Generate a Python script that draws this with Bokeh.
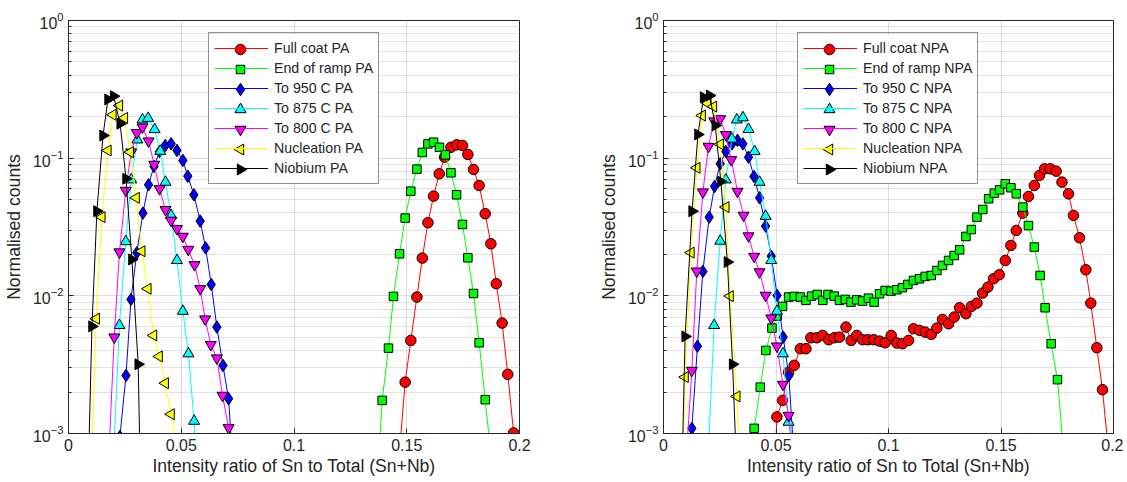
import math
from bokeh.plotting import figure
from bokeh.models import FixedTicker, Legend, LegendItem, BoxAnnotation
from bokeh.layouts import row
from bokeh.embed import file_html
from bokeh.resources import INLINE

# ---------------- data : PA (left panel) ----------------
fc_pa_x = [0.1468, 0.1493, 0.1518, 0.1545, 0.1569, 0.1594, 0.1619, 0.1644, 0.1668, 0.1696, 0.1722,
           0.1747, 0.1771, 0.1796, 0.1821, 0.1848, 0.1873, 0.1897, 0.1923, 0.1948, 0.1974, 0.1999]
fc_pa_y = [0.00075, 0.00236, 0.00474, 0.0098, 0.0188, 0.034, 0.053, 0.077, 0.1017, 0.120, 0.125,
           0.1237, 0.1064, 0.0828, 0.0633, 0.0395, 0.0239, 0.01225, 0.00634, 0.00269, 0.00101, 0.0002]

er_pa_x = [0.1366, 0.1391, 0.1419, 0.1441, 0.1468, 0.1493, 0.1518, 0.1545, 0.1569, 0.1594, 0.1619,
           0.1645, 0.1671, 0.1696, 0.1721, 0.1747, 0.1771, 0.1796, 0.1821, 0.1848, 0.1873]
er_pa_y = [0.00037, 0.00174, 0.00417, 0.0099, 0.0202, 0.0367, 0.0576, 0.0832, 0.110, 0.127, 0.1306,
           0.120, 0.1057, 0.0783, 0.0542, 0.033, 0.0189, 0.0104, 0.00456, 0.00176, 0.0007]

t950_pa_x = [0.0228, 0.0255, 0.0277, 0.0303, 0.0330, 0.0355, 0.0379, 0.0404, 0.0429, 0.0455, 0.0481,
             0.0507, 0.0529, 0.0556, 0.0584, 0.0608, 0.0633, 0.0658, 0.0685, 0.0710, 0.0736]
t950_pa_y = [0.00095, 0.00264, 0.00942, 0.02055, 0.0399, 0.0641, 0.0871, 0.1119, 0.1237, 0.1272, 0.1138,
             0.0962, 0.0740, 0.0542, 0.0349, 0.0223, 0.0121, 0.00593, 0.00312, 0.00179, 0.0004]

t875_pa_x = [0.0200, 0.0226, 0.0254, 0.0278, 0.0305, 0.0328, 0.0353, 0.0382, 0.0407, 0.0430, 0.0455,
             0.0481, 0.0507, 0.0532, 0.0557, 0.0583]
t875_pa_y = [0.00072, 0.0061, 0.0248, 0.0697, 0.136, 0.190, 0.195, 0.1616, 0.1124, 0.067, 0.0384,
             0.0181, 0.00774, 0.0038, 0.00123, 0.0001]

t800_pa_x = [0.0177, 0.0203, 0.0226, 0.0254, 0.0278, 0.0303, 0.0328, 0.0355, 0.0380, 0.0404, 0.0430,
             0.0455, 0.0481, 0.0507, 0.0531, 0.0559, 0.0584, 0.0606, 0.0631, 0.0658, 0.0683, 0.0710, 0.0736]
t800_pa_y = [0.0006, 0.00501, 0.0208, 0.0583, 0.1106, 0.153, 0.168, 0.133, 0.090, 0.0599, 0.0422,
             0.0353, 0.0307, 0.027, 0.0217, 0.0168, 0.01125, 0.00678, 0.00442, 0.00353, 0.00189, 0.0011, 0.0002]

nuc_pa_x = [0.0097, 0.0123, 0.0148, 0.0175, 0.0197, 0.0226, 0.0248, 0.0274, 0.0300, 0.0325, 0.0352,
            0.0377, 0.0402, 0.0429, 0.0455, 0.0481]
nuc_pa_y = [0.00036, 0.00682, 0.0373, 0.1138, 0.2066, 0.241, 0.196, 0.1106, 0.0515, 0.0211, 0.01125,
            0.00516, 0.00363, 0.00232, 0.00138, 0.00085]

nb_pa_x = [0.0078, 0.0104, 0.0126, 0.0153, 0.0175, 0.0200, 0.0229, 0.0255, 0.0281, 0.0309, 0.0335]
nb_pa_y = [0.00012, 0.0060, 0.0412, 0.146, 0.267, 0.282, 0.178, 0.0709, 0.01838, 0.00318, 0.00002]

# ---------------- data : NPA (right panel) ----------------
fc_npa_x = [0.0479, 0.0504, 0.0529, 0.0556, 0.0581, 0.0608, 0.0633, 0.0655, 0.0682, 0.0707, 0.0734,
            0.0759, 0.0782, 0.0811, 0.0834, 0.0859, 0.0885, 0.0908, 0.0934, 0.0960, 0.0985,
            0.1012, 0.1037, 0.1062, 0.1089, 0.1111, 0.1138, 0.1163, 0.1190, 0.1215, 0.1240,
            0.1267, 0.1292, 0.1316, 0.1344, 0.1368, 0.1393, 0.1418, 0.1442, 0.1467, 0.1492,
            0.1519, 0.1544, 0.1568, 0.1597, 0.1622, 0.1648, 0.1671, 0.1694, 0.1719, 0.1745,
            0.1771, 0.1800, 0.1822, 0.1849, 0.1877, 0.1899, 0.1926, 0.1951, 0.1977]
fc_npa_y = [0.00013, 0.00132, 0.00174, 0.00279, 0.00313, 0.00413, 0.00413, 0.00496, 0.00496, 0.00516, 0.0048,
            0.00496, 0.00501, 0.00593, 0.00474, 0.00516, 0.0048, 0.0048, 0.0048, 0.00469, 0.00456,
            0.00516, 0.00454, 0.00449, 0.00474, 0.00577, 0.00561, 0.00545, 0.00525, 0.00583, 0.00674,
            0.00627, 0.00701, 0.00819, 0.00741, 0.00838, 0.00885, 0.01047, 0.01157, 0.0133, 0.01422,
            0.01807, 0.02323, 0.02985, 0.0399, 0.0527, 0.0633, 0.0749, 0.0837, 0.0837, 0.0805,
            0.067, 0.0551, 0.0384, 0.0264, 0.01546, 0.00885, 0.0042, 0.00208, 0.00076]

er_npa_x = [0.0378, 0.0403, 0.0430, 0.0455, 0.0482, 0.0505, 0.0529, 0.0556, 0.0581, 0.0608, 0.0633,
            0.0658, 0.0683, 0.0708, 0.0731, 0.0759, 0.0782, 0.0808, 0.0833, 0.0859, 0.0885,
            0.0911, 0.0936, 0.0960, 0.0985, 0.1011, 0.1037, 0.1062, 0.1086, 0.1111, 0.1138,
            0.1163, 0.1190, 0.1215, 0.1240, 0.1267, 0.1292, 0.1316, 0.1344, 0.1368, 0.1393,
            0.1419, 0.1445, 0.1470, 0.1494, 0.1519, 0.1544, 0.1568, 0.1597, 0.1622, 0.1648,
            0.1674, 0.1696, 0.1723, 0.1751, 0.1777]
er_npa_y = [0.0003, 0.00109, 0.00217, 0.00401, 0.00583, 0.00713, 0.00838, 0.0098, 0.0099, 0.0098, 0.00927,
            0.00995, 0.01023, 0.00927, 0.01023, 0.00995, 0.00927, 0.00942, 0.0090, 0.00935, 0.00916,
            0.00962, 0.0090, 0.01035, 0.01094, 0.01082, 0.01107, 0.01146, 0.0121, 0.01294, 0.0133,
            0.01384, 0.01406, 0.01528, 0.01663, 0.01807, 0.01963, 0.02158, 0.027, 0.0303, 0.0373,
            0.0424, 0.0507, 0.0557, 0.0589, 0.0652, 0.061, 0.0551, 0.0441, 0.0324, 0.0226,
            0.01406, 0.00819, 0.00449, 0.00246, 0.00078]

t950_npa_x = [0.0101, 0.0126, 0.0151, 0.0175, 0.0203, 0.0227, 0.0252, 0.0277, 0.0304, 0.0329,
              0.0353, 0.0378, 0.0402, 0.0427, 0.0454, 0.0479, 0.0505, 0.0532, 0.0557, 0.0582]
t950_npa_y = [0.0002, 0.00109, 0.00431, 0.01504, 0.0373, 0.0623, 0.0911, 0.112, 0.127, 0.1345,
              0.127, 0.1017, 0.0736, 0.0515, 0.0321, 0.0194, 0.01007, 0.00501, 0.00263, 0.0006]

t875_npa_x = [0.0200, 0.0225, 0.0252, 0.0277, 0.0304, 0.0326, 0.0353, 0.0378, 0.0405, 0.0427,
              0.0454, 0.0479, 0.0504, 0.0531, 0.0556, 0.0581]
t875_npa_y = [0.0008, 0.0061, 0.0250, 0.0697, 0.138, 0.190, 0.197, 0.162, 0.112, 0.067,
              0.0379, 0.0181, 0.00774, 0.0038, 0.00121, 0.00087]

t800_npa_x = [0.0101, 0.0126, 0.0148, 0.0175, 0.0200, 0.0225, 0.0252, 0.0277, 0.0301, 0.0329,
              0.0356, 0.0378, 0.0403, 0.0427, 0.0454, 0.0479, 0.0504, 0.0531, 0.0556, 0.0581]
t800_npa_y = [0.00066, 0.00287, 0.0151, 0.0567, 0.1216, 0.186, 0.193, 0.148, 0.0973, 0.0573,
              0.0384, 0.0272, 0.0193, 0.0149, 0.01007, 0.00689, 0.00431, 0.00227, 0.00135, 0.0005]

nuc_npa_x = [0.0071, 0.0096, 0.0122, 0.0148, 0.0172, 0.0197, 0.0222, 0.0252, 0.0277, 0.0296, 0.0326, 0.0352]
nuc_npa_y = [0.0001, 0.00257, 0.0206, 0.0851, 0.204, 0.25, 0.237, 0.126, 0.0441, 0.00995, 0.00186, 0.0002]

nb_npa_x = [0.0071, 0.0096, 0.0127, 0.0153, 0.0178, 0.0205, 0.0230, 0.0255, 0.0284, 0.0307, 0.0333]
nb_npa_y = [0.00008, 0.00507, 0.0412, 0.1486, 0.277, 0.285, 0.1727, 0.0677, 0.0176, 0.00318, 0.00025]

x_ticks = [0, 0.05, 0.1, 0.15, 0.2]
x_tick_labels = ["0", "0.05", "0.1", "0.15", "0.2"]

names = ["Full coat", "End of ramp", "To 950 C", "To 875 C", "To 800 C", "Nucleation", "Niobium"]
colors = ["#FF0000", "#00FF00", "#0000FF", "#00FFFF", "#FF00FF", "#FFFF00", "#000000"]
markers = [("circle", 10.5, 0.0), ("square", 8.5, 0.0), ("diamond", 12.5, 0.0), ("triangle", 11, 0.0),
           ("inverted_triangle", 11, 0.0), ("triangle", 11, math.pi / 2), ("triangle", 11, -math.pi / 2)]

pa_data = [(fc_pa_x, fc_pa_y), (er_pa_x, er_pa_y), (t950_pa_x, t950_pa_y), (t875_pa_x, t875_pa_y),
           (t800_pa_x, t800_pa_y), (nuc_pa_x, nuc_pa_y), (nb_pa_x, nb_pa_y)]
npa_data = [(fc_npa_x, fc_npa_y), (er_npa_x, er_npa_y), (t950_npa_x, t950_npa_y), (t875_npa_x, t875_npa_y),
            (t800_npa_x, t800_npa_y), (nuc_npa_x, nuc_npa_y), (nb_npa_x, nb_npa_y)]

FONT = "Liberation Sans"
TXT = "#262626"
FRAME_H = 413
LEG_PAD = 5
LEG_GLYPH_W = 54
LEG_ROW = 20
LEG_FONT_PX = 14.2
# Arial/Liberation Sans advance widths (em) of the glyphs used in the legend labels
ADV = {" ": .278, "A": .667, "C": .722, "E": .667, "F": .611, "N": .722, "P": .667, "T": .611,
       "0": .556, "5": .556, "7": .556, "8": .556, "9": .556, "a": .556, "b": .556, "c": .5,
       "d": .556, "e": .556, "f": .278, "i": .222, "l": .222, "m": .833, "n": .556, "o": .556,
       "p": .556, "r": .333, "t": .278, "u": .556}


def px_to_x(px, frame_w):
    return px * 0.2 / frame_w


def px_to_y(px):
    return 10 ** (-3 + 3 * px / FRAME_H)


def make_panel(data, suffix, frame_w, b_left, b_right, legend_loc):
    p = figure(frame_width=frame_w, frame_height=FRAME_H, x_range=(0, 0.2), y_range=(1e-3, 1),
               y_axis_type="log", output_backend="svg", toolbar_location=None,
               min_border_left=b_left, min_border_right=b_right, min_border_top=20, min_border_bottom=47)
    p.background_fill_color = "white"
    p.border_fill_color = "white"
    p.outline_line_color = TXT
    p.outline_line_width = 1

    p.xgrid.grid_line_color = "#dcdcdc"
    p.ygrid.grid_line_color = "#dcdcdc"
    p.ygrid.minor_grid_line_color = "#c4c4c4"
    p.ygrid.minor_grid_line_dash = "1 1"

    p.xaxis.ticker = FixedTicker(ticks=x_ticks)
    p.xaxis.major_label_overrides = {t: l for t, l in zip(x_ticks, x_tick_labels)}
    for ax in (p.xaxis[0], p.yaxis[0]):
        ax.axis_line_color = TXT
        ax.major_tick_line_color = TXT
        ax.minor_tick_line_color = TXT
        ax.major_tick_in = 5
        ax.major_tick_out = 0
        ax.minor_tick_out = 0
        ax.major_label_text_font = FONT
        ax.major_label_text_font_size = "16px"
        ax.major_label_text_color = TXT
        ax.axis_label_text_font = FONT
        ax.axis_label_text_font_size = "17.6px"
        ax.axis_label_text_font_style = "normal"
        ax.axis_label_text_color = TXT
    p.xaxis.minor_tick_in = 0
    p.yaxis.minor_tick_in = 3
    p.xaxis.axis_label = "Intensity ratio of Sn to Total (Sn+Nb)"
    p.yaxis.axis_label = "Normalised counts"
    p.xaxis.major_label_standoff = 5
    p.xaxis.axis_label_standoff = 2
    p.yaxis.axis_label_standoff = 6

    labels = [f"{name} {suffix}" for name in names]

    # white backing of the legend box (legend itself is drawn transparent on top)
    label_w = max(sum(ADV.get(ch, .556) for ch in lab) for lab in labels) * LEG_FONT_PX
    leg_w = 2 * LEG_PAD + LEG_GLYPH_W + 6 + label_w
    leg_h = 2 * LEG_PAD + len(labels) * LEG_ROW
    backing = BoxAnnotation(left=px_to_x(legend_loc[0] + 0.5, frame_w),
                            right=px_to_x(legend_loc[0] + leg_w - 0.5, frame_w),
                            bottom=px_to_y(legend_loc[1] + 0.5), top=px_to_y(legend_loc[1] + leg_h - 0.5),
                            fill_color="white", fill_alpha=1, line_alpha=0, level="underlay")
    p.add_layout(backing)

    items = []
    for lab, col, (mk, sz, ang), (xs, ys) in zip(labels, colors, markers, data):
        ln = p.line(xs, ys, line_color=col, line_width=1)
        p.scatter(xs, ys, marker=mk, size=sz, angle=ang, fill_color=col, line_color="black", line_width=1)
        items.append(LegendItem(label=lab, renderers=[ln]))

    # legend entry symbols
    sym_x = px_to_x(legend_loc[0] + LEG_PAD + LEG_GLYPH_W / 2, frame_w)
    for i, (col, (mk, sz, ang)) in enumerate(zip(colors, markers)):
        sym_y = px_to_y(legend_loc[1] + leg_h - LEG_PAD - (i + 0.5) * LEG_ROW)
        p.scatter([sym_x], [sym_y], marker=mk, size=sz, angle=ang, fill_color=col,
                  line_color="black", line_width=1)

    lg = Legend(items=items, location=legend_loc)
    lg.label_text_font = FONT
    lg.label_text_font_size = f"{LEG_FONT_PX}px"
    lg.label_text_color = TXT
    lg.border_line_color = TXT
    lg.border_line_width = 1
    lg.background_fill_alpha = 0
    lg.glyph_width = LEG_GLYPH_W
    lg.glyph_height = LEG_ROW
    lg.label_height = LEG_ROW
    lg.spacing = 0
    lg.padding = LEG_PAD
    lg.margin = 0
    lg.label_standoff = 6
    p.add_layout(lg, "center")
    return p


left = make_panel(pa_data, "PA", 451, 68, 76, (140, 249))
right = make_panel(npa_data, "NPA", 450, 68, 10, (134, 249))

page = row(left, right)
open("out.html", "w").write(file_html(page, INLINE))
